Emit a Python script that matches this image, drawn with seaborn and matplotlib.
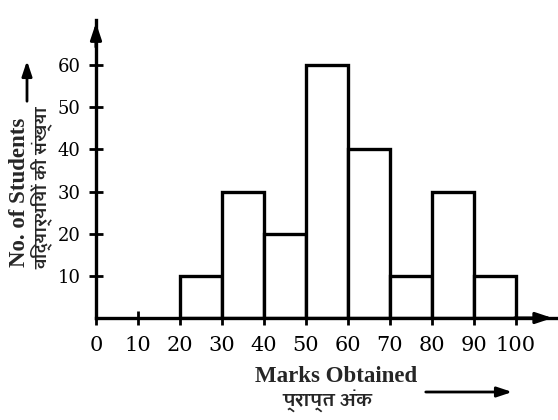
import matplotlib
matplotlib.use("Agg")
import matplotlib.pyplot as plt
import seaborn as sns

# class intervals (marks) and number of students in each
bin_edges = [20, 30, 40, 50, 60, 70, 80, 90, 100]
students = [10, 30, 20, 60, 40, 10, 30, 10]
x_ticks = [0, 10, 20, 30, 40, 50, 60, 70, 80, 90, 100]
y_ticks = [10, 20, 30, 40, 50, 60]

sns.set_theme(style="white")
plt.rcParams["font.family"] = ["Liberation Serif", "Amiko", "DejaVu Sans"]
hindi = ["Amiko", "DejaVu Sans"]

W, H = 558, 420
fig = plt.figure(figsize=(W / 100, H / 100), dpi=100)
ax = fig.add_axes([96 / W, 102 / H, 462 / W, 298 / H])

mids = [e + 5 for e in bin_edges[:-1]]
sns.histplot(x=mids, weights=students, bins=bin_edges, color="white",
             edgecolor="black", linewidth=2.4, alpha=1, ax=ax)

ax.set_xlim(0, 110)
ax.set_ylim(0, 70.7)
ax.set_xticks(x_ticks)
ax.set_yticks(y_ticks)
ax.set_xlabel("")
ax.set_ylabel("")
for side in ["top", "right"]:
    ax.spines[side].set_visible(False)
for side in ["left", "bottom"]:
    ax.spines[side].set_linewidth(2.4)
    ax.spines[side].set_color("black")
ax.tick_params(bottom=True, left=True, direction="inout", length=10, width=2,
               colors="black")
ax.tick_params(axis="x", pad=8, labelsize=15)
ax.tick_params(axis="y", pad=6, labelsize=13)
for lab in ax.get_xticklabels() + ax.get_yticklabels():
    lab.set_family("DejaVu Serif")

# axis arrows
head = "-|>,head_length=0.9,head_width=0.3"
ax.annotate("", xy=(0.994, 0), xytext=(0.9, 0), xycoords="axes fraction",
            arrowprops=dict(arrowstyle=head, lw=2.2, color="black", mutation_scale=11))
ax.annotate("", xy=(0, 1.0), xytext=(0, 0.9), xycoords="axes fraction",
            arrowprops=dict(arrowstyle=head, lw=2.2, color="black", mutation_scale=11))


def px(x, y):
    return x / W, 1 - y / H


fig.text(*px(336, 376), "Marks Obtained", ha="center", va="center",
         fontsize=16.5, fontweight="bold")
fig.text(*px(327, 401), "प्राप्त अंक", ha="center", va="center",
         fontsize=13, fontweight="bold", family=hindi)
fig.text(*px(20, 192), "No. of Students", ha="center", va="center",
         rotation=90, fontsize=16.5, fontweight="bold")
fig.text(*px(41, 188), "विद्यार्थियों की संख्या", ha="center", va="center",
         rotation=90, fontsize=12, fontweight="bold", family=hindi)
ax.annotate("", xy=px(515, 392), xytext=px(423, 392), xycoords="figure fraction",
            arrowprops=dict(arrowstyle=head, lw=2, color="black", mutation_scale=10))
ax.annotate("", xy=px(27, 58), xytext=px(27, 104), xycoords="figure fraction",
            arrowprops=dict(arrowstyle=head, lw=2, color="black", mutation_scale=10))

fig.savefig("out.png", dpi=100)
